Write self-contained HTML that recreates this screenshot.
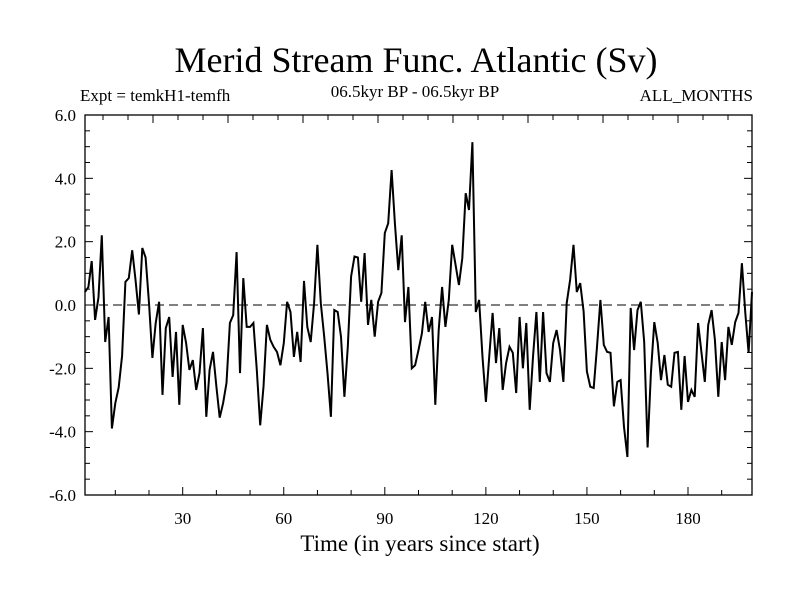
<!DOCTYPE html>
<html><head><meta charset="utf-8"><style>
body{margin:0;background:#fff}
svg{display:block;font-family:"Liberation Serif",serif}
</style></head><body>
<svg id="chart" width="800" height="600">
<text x="416" y="72" font-size="36" text-anchor="middle">Merid Stream Func. Atlantic (Sv)</text>
<text x="80" y="101" font-size="17">Expt = temkH1-temfh</text>
<text x="415" y="97" font-size="17" text-anchor="middle">06.5kyr BP - 06.5kyr BP</text>
<text x="753" y="101" font-size="17" text-anchor="end">ALL_MONTHS</text>
<text x="420" y="551" font-size="23" text-anchor="middle">Time (in years since start)</text>
<g id="axes"></g>
<g id="plot"></g>
</svg>
<script>
const values=[0.41,0.57,1.39,-0.47,0.25,2.2,-1.17,-0.38,-3.9,-3.1,-2.6,-1.6,0.73,0.85,1.73,0.8,-0.3,1.8,1.5,0.06,-1.67,-0.57,0.1,-2.84,-0.73,-0.38,-2.27,-0.85,-3.15,-0.63,-1.2,-2.05,-1.74,-2.68,-2.15,-0.73,-3.53,-2.05,-1.48,-2.58,-3.56,-3.1,-2.46,-0.57,-0.32,1.67,-2.15,0.85,-0.69,-0.69,-0.57,
-2.05,-3.8,-2.58,-0.63,-1.1,-1.32,-1.48,-1.9,-1.2,0.1,-0.22,-1.64,-0.85,-1.8,0.76,-0.69,-1.17,0.06,1.9,0.06,-1.0,-2.15,-3.53,-0.16,-0.22,-1.0,-2.9,-1.32,0.9,1.53,1.5,0.1,1.64,-0.63,0.16,-1.0,0.1,0.38,2.27,2.58,4.26,2.58,1.1,2.2,-0.54,0.57,-2.0,-1.9,-1.42,
-0.9,0.1,-0.85,-0.38,-3.15,-0.79,0.57,-0.69,0.16,1.9,1.26,0.63,1.48,3.53,3.0,5.14,-0.22,0.16,-1.64,-3.06,-1.64,-0.25,-1.83,-0.73,-2.68,-1.83,-1.32,-1.51,-2.78,-0.38,-2.0,-0.57,-3.31,-1.64,-0.22,-2.43,-0.22,-2.15,-2.43,-1.2,-0.79,-1.42,-2.43,0.06,0.79,1.9,0.41,0.69,
-0.2,-2.1,-2.58,-2.62,-1.32,0.16,-1.26,-1.48,-1.51,-3.2,-2.43,-2.37,-3.85,-4.8,-0.09,-1.42,-0.16,0.1,-1.17,-4.5,-2.15,-0.54,-1.2,-2.37,-1.58,-2.52,-2.58,-1.51,-1.48,-3.31,-1.61,-3.06,-2.68,-2.9,-0.57,-1.51,-2.43,-0.63,-0.16,-1.1,-2.9,-1.17,-2.37,-0.69,-1.26,-0.54,-0.25,1.32,-0.25,-1.51,0.41];
const yTicks=[6,4,2,0,-2,-4,-6];
const yTickLabels=["6.0","4.0","2.0","0.0","-2.0","-4.0","-6.0"];
const xTicks=[30,60,90,120,150,180];
const xTickLabels=["30","60","90","120","150","180"];

const L=85,R=752,T=115,B=495;
const n=values.length;
const xs=t=>L+(t-1)*(R-L)/(n-1);
const ys=v=>B-(v+6)*(B-T)/12;
const NS="http://www.w3.org/2000/svg";
const axes=document.getElementById('axes'),plot=document.getElementById('plot');
function mk(tag,attrs,parent){const e=document.createElementNS(NS,tag);for(const k in attrs)e.setAttribute(k,attrs[k]);parent.appendChild(e);return e;}

const frame=mk('rect',{x:L,y:T,width:R-L,height:B-T,fill:'none',stroke:'#000','stroke-width':1.3},axes);



for(let v=-6;v<=6.001;v+=0.5){
  const major=Math.abs(v%2)<1e-6;const len=major?8:5;const y=ys(v);
  const t1=mk('line',{x1:L,x2:L+len,y1:y,y2:y,stroke:'#000'},axes);
  
  
  const t2=mk('line',{x1:R,x2:R-len,y1:y,y2:y,stroke:'#000'},axes);
  
  
}
yTicks.forEach((v,i)=>{
  const t=mk('text',{x:L-9,y:ys(v)+6,'font-size':17,'text-anchor':'end'},axes);
  t.textContent=yTickLabels[i];
  
  
});
for(let yr=10;yr<=n;yr+=10){
  const major=yr%30===0;const x=xs(yr);
  const t=mk('line',{x1:x,x2:x,y1:B,y2:B-(major?8:5),stroke:'#000'},axes);
  
  
}
for(let k=0;k<26;k++){
  const x=103+k*25;if(x>=R)break;const major=(k%3===2);
  const t=mk('line',{x1:x,x2:x,y1:T,y2:T+(major?8:5),stroke:'#000'},axes);
  
  
}
xTicks.forEach((v,i)=>{
  const t=mk('text',{x:xs(v),y:524,'font-size':17,'text-anchor':'middle'},axes);
  t.textContent=xTickLabels[i];
  
  
});
const zl=mk('line',{x1:L,x2:R,y1:ys(0),y2:ys(0),stroke:'#000','stroke-dasharray':'9,5'},plot);


const pts=values.map((v,i)=>xs(i+1).toFixed(1)+','+ys(v).toFixed(1)).join(' ');
const line=mk('polyline',{points:pts,fill:'none',stroke:'#000','stroke-width':2,'stroke-linejoin':'miter'},plot);


</script>
</body></html>
